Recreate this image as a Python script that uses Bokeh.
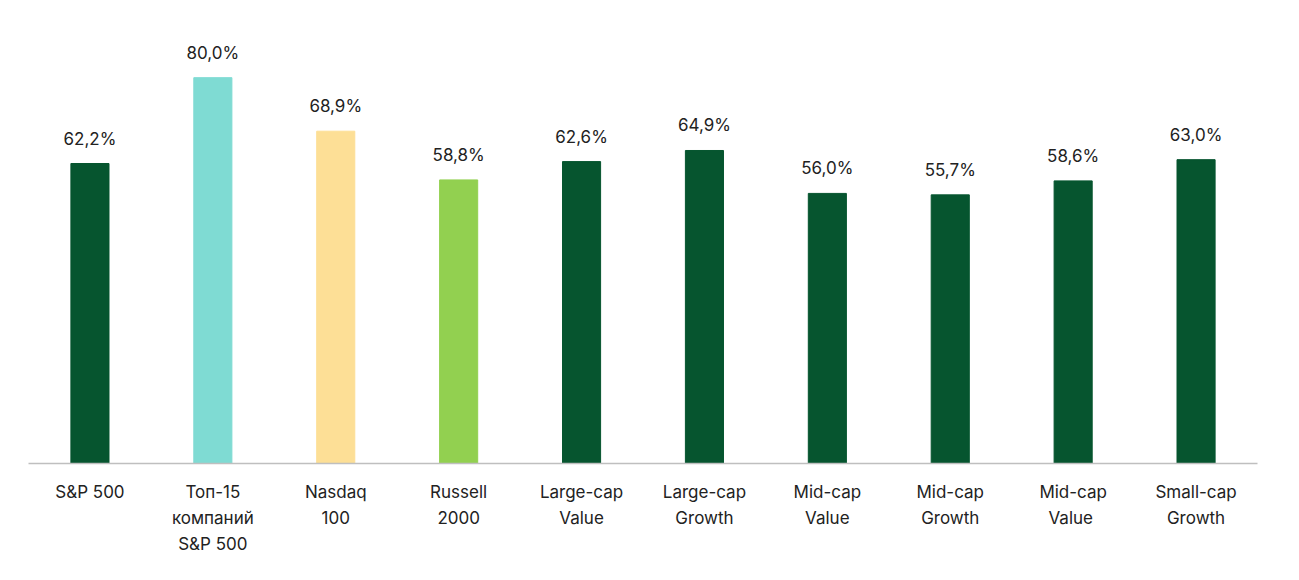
from bokeh.plotting import figure
from bokeh.models import ColumnDataSource, Range1d, FactorRange
from bokeh.embed import file_html
from bokeh.resources import INLINE
from bokeh.core.properties import value

categories = ["S&P 500", "Топ-15\nкомпаний\nS&P 500", "Nasdaq\n100", "Russell\n2000",
              "Large-cap\nValue", "Large-cap\nGrowth", "Mid-cap\nValue", "Mid-cap\nGrowth",
              "Mid-cap\nValue ", "Small-cap\nGrowth"]
values = [62.2, 80.0, 68.9, 58.8, 62.6, 64.9, 56.0, 55.7, 58.6, 63.0]
colors = ["#06552F", "#7FDBD3", "#FDDF96", "#92D050", "#06552F", "#06552F",
          "#06552F", "#06552F", "#06552F", "#06552F"]
labels = [f"{v:.1f}%".replace(".", ",") for v in values]

src = ColumnDataSource(dict(x=categories, top=values, color=colors, label=labels))

p = figure(x_range=FactorRange(*categories, range_padding=0), y_range=Range1d(0, 96),
           width=1283, height=564, output_backend="svg", toolbar_location=None,
           min_border_left=28, min_border_right=26, min_border_top=0, min_border_bottom=101,
           outline_line_color=None)
p.vbar(x="x", top="top", width=0.31, color="color", source=src)
p.text(x="x", y="top", text="label", source=src, text_align="center", text_baseline="bottom",
       y_offset=-15, text_font=value("Inter"), text_font_size="17px", text_color="#222222")
p.grid.visible = False
p.yaxis.visible = False
ax = p.xaxis[0]
ax.axis_line_color = "#BFBFBF"
ax.axis_line_width = 1.5
ax.major_tick_line_color = None
ax.minor_tick_line_color = None
ax.major_label_text_font = "Inter"
ax.major_label_text_font_size = "17px"
ax.major_label_text_color = "#222222"
ax.major_label_standoff = 12
ax.major_label_text_line_height = 1.3

open("out.html", "w").write(file_html(p, INLINE))
